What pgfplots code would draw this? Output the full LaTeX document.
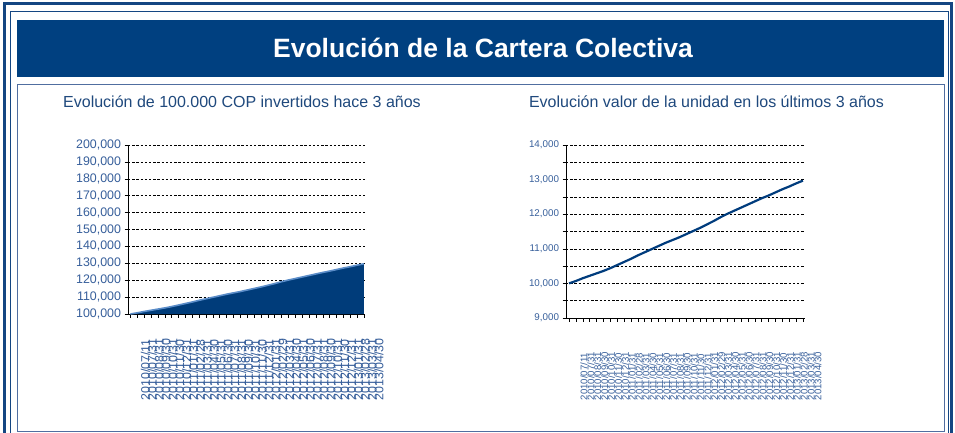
\documentclass[border=0pt]{standalone}
\usepackage{pgfplots}
\pgfplotsset{compat=1.18}
\usepackage{pgfplotstable}
\usepackage{fontspec}
\setmainfont{Liberation Sans}
\definecolor{band}{RGB}{0,64,128}
\definecolor{frameblue}{RGB}{20,70,130}
\definecolor{boxblue}{RGB}{80,110,160}
\definecolor{subblue}{RGB}{31,73,125}
\definecolor{tickblue}{RGB}{55,95,155}
\definecolor{areafill}{RGB}{0,60,122}
\definecolor{areaedge}{RGB}{90,140,200}
\definecolor{lineblue}{RGB}{0,60,125}

\pgfplotstableread{
i val
0 100000
1 100700
2 101500
3 102200
4 102900
5 103600
6 104400
7 105300
8 106200
9 107100
10 108100
11 109000
12 109900
13 110800
14 111700
15 112500
16 113300
17 114200
18 115100
19 116000
20 117000
21 118000
22 119100
23 120100
24 121000
25 121900
26 122800
27 123700
28 124600
29 125400
30 126300
31 127200
32 128000
33 128900
34 129700
}\investtable

\pgfplotstableread{
i val
0 10000
1 10070
2 10150
3 10220
4 10290
5 10360
6 10440
7 10530
8 10620
9 10710
10 10810
11 10900
12 10990
13 11080
14 11170
15 11250
16 11330
17 11420
18 11510
19 11600
20 11700
21 11800
22 11910
23 12010
24 12100
25 12190
26 12280
27 12370
28 12460
29 12540
30 12630
31 12720
32 12800
33 12890
34 12970
}\unittable

\def\datelabels{2010/07/11,2010/07/31,2010/08/31,2010/09/30,2010/10/31,2010/11/30,2010/12/31,2011/01/31,2011/02/28,2011/03/31,2011/04/30,2011/05/31,2011/06/30,2011/07/31,2011/08/31,2011/09/30,2011/10/31,2011/11/30,2011/12/31,2012/01/31,2012/02/29,2012/03/31,2012/04/30,2012/05/31,2012/06/30,2012/07/31,2012/08/31,2012/09/30,2012/10/31,2012/11/30,2012/12/31,2013/01/31,2013/02/28,2013/03/31,2013/04/30}

\pgfplotsset{
  commonaxis/.style={
    scale only axis,
    anchor=south west,
    axis lines=left,
    axis line style={-, black, line width=0.6pt},
    tick align=outside,
    major tick length=3.5bp,
    minor tick length=3.5bp,
    tick style={black, line width=0.5pt},
    ymajorgrids,
    grid style={black, line width=0.5pt, dash pattern=on 2.4bp off 1.8bp},
    xtick=data,
    /pgf/number format/assume math mode=true,
    /pgf/number format/fixed,
    /pgf/number format/1000 sep={,},
    scaled y ticks=false,
    clip=false,
  }
}

\begin{document}
\begin{tikzpicture}[x=1bp,y=1bp]
\useasboundingbox (0,0) rectangle (955,432);
% frames
\fill[white] (0,0) rectangle (955,432);
\draw[frameblue, line width=3bp] (4.5,-5) rectangle (951.5,428.5);
\draw[frameblue, line width=0.8bp] (10,-5) rectangle (948,421);
\fill[band] (17,355) rectangle (944,412);
\draw[boxblue, line width=0.9bp] (17,1) rectangle (944,348);
\node[text=white, font=\fontsize{26.5bp}{30bp}\selectfont\bfseries] at (483,384) {Evolución de la Cartera Colectiva};
\node[text=subblue, font=\fontsize{16bp}{19bp}\selectfont] at (242,330) {Evolución de 100.000 COP invertidos hace 3 años};
\node[text=subblue, font=\fontsize{16bp}{19bp}\selectfont] at (706.5,330) {Evolución valor de la unidad en los últimos 3 años};

% left chart
\begin{axis}[commonaxis,
  at={(128bp,118bp)}, width=237bp, height=169bp,
  xmin=-0.35, xmax=34.15,
  ymin=100000, ymax=200000,
  ytick={100000,110000,...,200000},
  xticklabels/.expanded={\datelabels},
  yticklabel style={font=\fontsize{12.4bp}{13bp}\selectfont, text=tickblue},
  xticklabel style={font=\fontsize{12.4bp}{13bp}\selectfont, text=tickblue, xshift=15bp, yshift=-83bp, rotate=90, anchor=west, inner sep=0pt},
]
\addplot[fill=areafill, draw=none] table[x=i, y=val] {\investtable} \closedcycle;
\addplot[areaedge, line width=1.6bp] table[x=i, y=val] {\investtable};
\end{axis}

% right chart
\begin{axis}[commonaxis,
  at={(566bp,114bp)}, width=239bp, height=173bp,
  xmin=-0.44, xmax=34.3,
  ymin=9000, ymax=14000,
  ytick={9000,10000,...,14000},
  minor ytick={9500,10500,...,13500},
  yminorgrids,
  minor grid style={black, line width=0.5pt, dash pattern=on 2.4bp off 1.8bp},
  xticklabels/.expanded={\datelabels},
  yticklabel style={font=\fontsize{9.8bp}{11bp}\selectfont, text=tickblue},
  xticklabel style={font=\fontsize{9.6bp}{11bp}\selectfont, text=tickblue, xshift=15bp, yshift=-79bp, rotate=90, anchor=west, inner sep=0pt},
]
\addplot[lineblue, line width=2.2bp] table[x=i, y=val] {\unittable};
\end{axis}
\end{tikzpicture}
\end{document}
